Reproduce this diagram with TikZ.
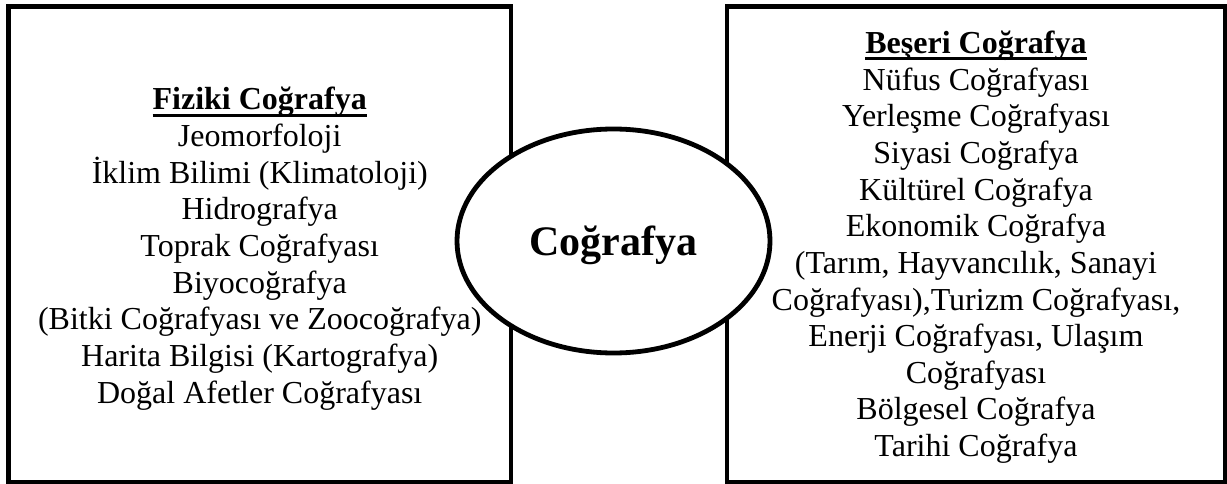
\documentclass[tikz,border=0pt]{standalone}
\usepackage{fontspec}
\setmainfont{Liberation Serif}
\usepackage{tikz}
\usetikzlibrary{shapes.geometric, positioning}
\newsavebox{\baslikkutu}
\newcommand{\baslik}[1]{\sbox{\baslikkutu}{\bfseries #1}\rlap{\rule[-6.7pt]{\wd\baslikkutu}{3pt}}\usebox{\baslikkutu}}

\begin{document}
\begin{tikzpicture}[x=1pt, y=-1pt,
        kutu/.style={draw, line width=4.8pt, inner sep=0pt, minimum height=475.5pt},
        yazi/.style={inner sep=0pt, align=center, font=\fontsize{32}{36.65}\selectfont},
        merkez/.style={ellipse, draw, fill=white, line width=4.8pt, inner sep=0pt,
                     minimum width=313pt, minimum height=224pt, text depth=0pt,
                     font=\fontsize{42}{48}\selectfont\bfseries}]
        \useasboundingbox (0,0) rectangle (1227,484);

        \node[kutu, minimum width=502.5pt]  (fiziki)      at (259.75,244.25) {};
        \node[kutu, minimum width=498pt]    (beseri)      at (976,244.25)    {};
        \node[yazi]  (fizikiyazi)  at ([yshift=-4.5pt]fiziki.center)
            {\baslik{Fiziki Coğrafya}\\ Jeomorfoloji\\ İklim Bilimi (Klimatoloji)\\ Hidrografya\\
             Toprak Coğrafyası\\ Biyocoğrafya\\ (Bitki Coğrafyası ve Zoocoğrafya)\\
             Harita Bilgisi (Kartografya)\\ Doğal Afetler Coğrafyası};
        \node[yazi]  (beseriyazi)  at ([yshift=-3pt]beseri.center)
            {\baslik{Beşeri Coğrafya}\\ Nüfus Coğrafyası\\ Yerleşme Coğrafyası\\ Siyasi Coğrafya\\
             Kültürel Coğrafya\\ Ekonomik Coğrafya\\ (Tarım, Hayvancılık, Sanayi\\
             Coğrafyası),Turizm Coğrafyası,\\ Enerji Coğrafyası, Ulaşım\\ Coğrafyası\\
             Bölgesel Coğrafya\\ Tarihi Coğrafya};
        \node[merkez]                       (cografya)    at (613.5,241)     {Coğrafya};
    \end{tikzpicture}
\end{document}
